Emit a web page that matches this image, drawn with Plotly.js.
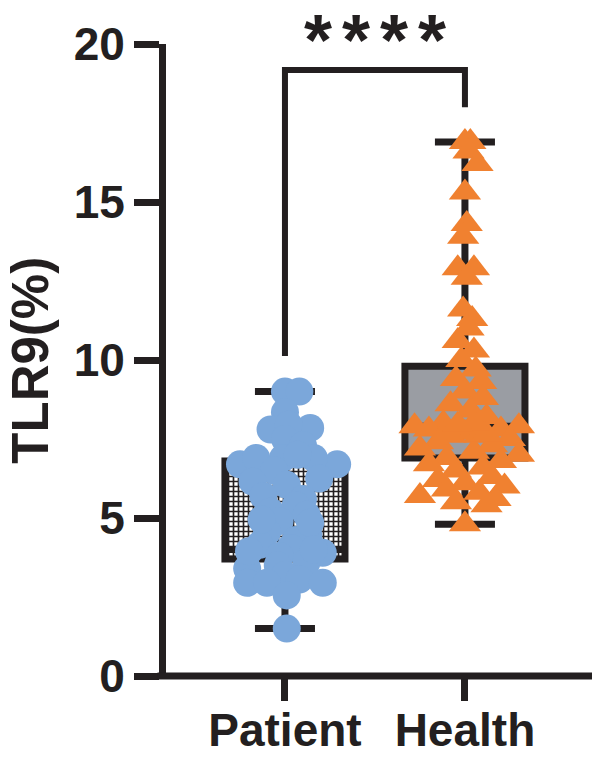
<!DOCTYPE html>
<html>
<head>
<meta charset="utf-8">
<script src="https://cdn.plot.ly/plotly-3.0.1.min.js"></script>
<style>
  html, body { margin: 0; padding: 0; background: #fff; }
  #chart { width: 592px; height: 771px; }
</style>
</head>
<body>
<div id="chart"></div>
<script>
// groups on the x axis
var groups = ['Patient', 'Health'];
var groupPos = [0, 1];

// box summary (min to max whiskers)
var lowerFence = [1.5, 4.8];
var q1 = [3.7, 6.9];
var median = [4.0, 7.9];
var q3 = [6.8, 9.8];
var upperFence = [9.0, 16.9];

// individual values, with their horizontal scatter
var patientY = [9.0, 9.0, 8.35, 7.8, 7.85, 7.95, 7.5, 7.3, 6.7, 6.7, 6.9, 6.9, 6.9, 7.0,
  6.5, 6.15, 6.25, 6.05, 5.7, 5.6, 5.4, 5.2, 5.1, 4.9, 4.55, 4.45, 4.3, 4.15, 4.05, 3.9,
  3.8, 3.4, 3.5, 3.6, 3.2, 2.95, 2.95, 3.05, 2.95, 2.55, 1.5, 4.95, 4.85, 3.95, 4.0];
var patientJitter = [0.0, 0.08, 0.0, -0.08, 0.14, 0.02, 0.0, 0.1, -0.25, 0.29, -0.16, -0.01, 0.16, 0.07,
  -0.06, -0.18, 0.19, 0.01, -0.12, 0.1, 0.06, -0.08, 0.12, -0.03, -0.1, 0.13, 0.06, -0.14, 0.03, 0.21,
  -0.03, -0.21, -0.04, 0.12, 0.0, -0.21, -0.1, 0.08, 0.21, 0.01, 0.01, -0.13, 0.14, -0.2, 0.16];

var healthY = [16.9, 16.9, 16.6, 16.2, 15.3, 14.3, 13.9, 12.9, 12.9, 12.6, 11.6, 11.3, 11.0, 10.6,
  10.3, 10.0, 9.7, 9.4, 9.3, 9.0, 8.8, 8.6, 8.4, 8.2, 8.0, 7.9, 7.9, 7.8, 7.8, 7.7, 7.6, 7.6,
  7.5, 7.4, 7.3, 7.2, 7.1, 7.0, 6.9, 6.8, 6.7, 6.6, 6.5, 6.3, 6.2, 6.1, 6.0, 5.9, 5.8, 5.7,
  5.6, 5.5, 5.4, 4.8, 7.75, 7.65, 8.0, 7.95];
var healthJitter = [0.0, 0.03, 0.02, 0.07, 0.0, 0.01, -0.01, -0.04, 0.05, 0.01, -0.01, 0.04, 0.02, -0.04,
  0.05, -0.02, 0.06, -0.05, 0.09, 0.0, 0.1, -0.08, 0.03, 0.12, -0.12, -0.28, 0.3, 0.2, -0.2, 0.0, 0.08, -0.08,
  0.25, -0.15, 0.15, -0.25, 0.05, 0.3, -0.1, 0.2, -0.2, 0.1, -0.05, 0.15, -0.15, 0.0, 0.22, -0.1, 0.08, -0.25,
  0.17, -0.05, 0.12, 0.0, -0.1, 0.12, 0.05, -0.04];

// significance bracket
var bracketLeftFoot = 10.13;
var bracketTop = 19.18;
var bracketRightFoot = 18.0;
var sigLevel = 21.42;
var sigStars = ['*', '*', '*', '*'];

var yTitle = 'TLR9(%)';

var ink = '#231f20';
var boxWidth = 0.667;
var yMax = 20;
var font = 'Liberation Sans, Arial, sans-serif';

var patternBox = {
  type: 'bar',
  x: [groupPos[0]],
  base: [q1[0]],
  y: [q3[0] - q1[0]],
  width: boxWidth,
  marker: {
    color: 'white',
    line: {width: 0},
    pattern: {shape: '+', size: 5, solidity: 0.55, fgcolor: ink, bgcolor: 'white'}
  },
  hoverinfo: 'skip',
  showlegend: false
};

var boxes = groupPos.map(function (p, i) {
  return {
    type: 'box',
    x: [p],
    q1: [q1[i]],
    median: [median[i]],
    q3: [q3[i]],
    lowerfence: [lowerFence[i]],
    upperfence: [upperFence[i]],
    width: boxWidth,
    whiskerwidth: 0.5,
    fillcolor: i === 0 ? 'rgba(0,0,0,0)' : '#9a9da3',
    line: {color: ink, width: 7},
    boxpoints: false,
    showlegend: false
  };
});

var patientPts = {
  type: 'scatter',
  mode: 'markers',
  x: patientJitter.map(function (d) { return groupPos[0] + d; }),
  y: patientY,
  marker: {symbol: 'circle', size: 28, color: '#7ba7da'},
  showlegend: false
};

var healthPts = {
  type: 'scatter',
  mode: 'markers',
  x: healthJitter.map(function (d) { return groupPos[1] + d; }),
  y: healthY,
  marker: {symbol: 'triangle-up', size: 28, color: '#f08130'},
  showlegend: false
};

var data = [patternBox].concat(boxes, [patientPts, healthPts]);

var tickFont = {family: font, size: 46, color: ink, weight: 'bold'};

var annotations = sigStars.map(function (s, i) {
  return {
    xref: 'x', yref: 'paper',
    x: (groupPos[0] + groupPos[1]) / 2,
    xshift: (i - 1.5) * 38,
    y: sigLevel / yMax,
    yanchor: 'top',
    borderpad: 0,
    text: s,
    showarrow: false,
    font: {family: font, size: 72, color: ink, weight: 'bold'}
  };
});
// y axis title, placed by hand at the far left
annotations.push({
  xref: 'paper', yref: 'paper',
  x: -0.32, y: 0.5,
  xanchor: 'center', yanchor: 'middle',
  textangle: -90,
  text: yTitle,
  showarrow: false,
  font: {family: font, size: 51, color: ink, weight: 'bold'}
});

var layout = {
  width: 592,
  height: 771,
  margin: {l: 166, r: 0, t: 44, b: 95},
  paper_bgcolor: 'white',
  plot_bgcolor: 'white',
  barmode: 'overlay',
  boxmode: 'overlay',
  showlegend: false,
  xaxis: {
    range: [-0.661, 1.706],
    tickvals: groupPos,
    ticktext: groups,
    ticks: 'outside',
    ticklen: 24,
    tickwidth: 7,
    tickcolor: ink,
    ticklabelstandoff: -10,
    showline: false,
    showgrid: false,
    zeroline: false,
    tickfont: tickFont
  },
  yaxis: {
    range: [0, yMax],
    tickvals: [0, 5, 10, 15, 20],
    ticks: 'outside',
    ticklen: 25,
    tickwidth: 7,
    tickcolor: ink,
    showline: true,
    linewidth: 7,
    linecolor: ink,
    showgrid: false,
    zeroline: false,
    tickfont: tickFont
  },
  shapes: [{
    // x axis line running out to the right edge
    type: 'line',
    xref: 'paper', yref: 'paper',
    x0: -0.02, x1: 1.05, y0: 0, y1: 0,
    line: {color: ink, width: 7}
  }, {
    type: 'path',
    xref: 'x', yref: 'y',
    path: 'M ' + groupPos[0] + ',' + bracketLeftFoot + ' L ' + groupPos[0] + ',' + bracketTop +
          ' L ' + groupPos[1] + ',' + bracketTop + ' L ' + groupPos[1] + ',' + bracketRightFoot,
    line: {color: ink, width: 6}
  }],
  annotations: annotations
};

Plotly.newPlot('chart', data, layout, {displayModeBar: false, staticPlot: true});
</script>
</body>
</html>
